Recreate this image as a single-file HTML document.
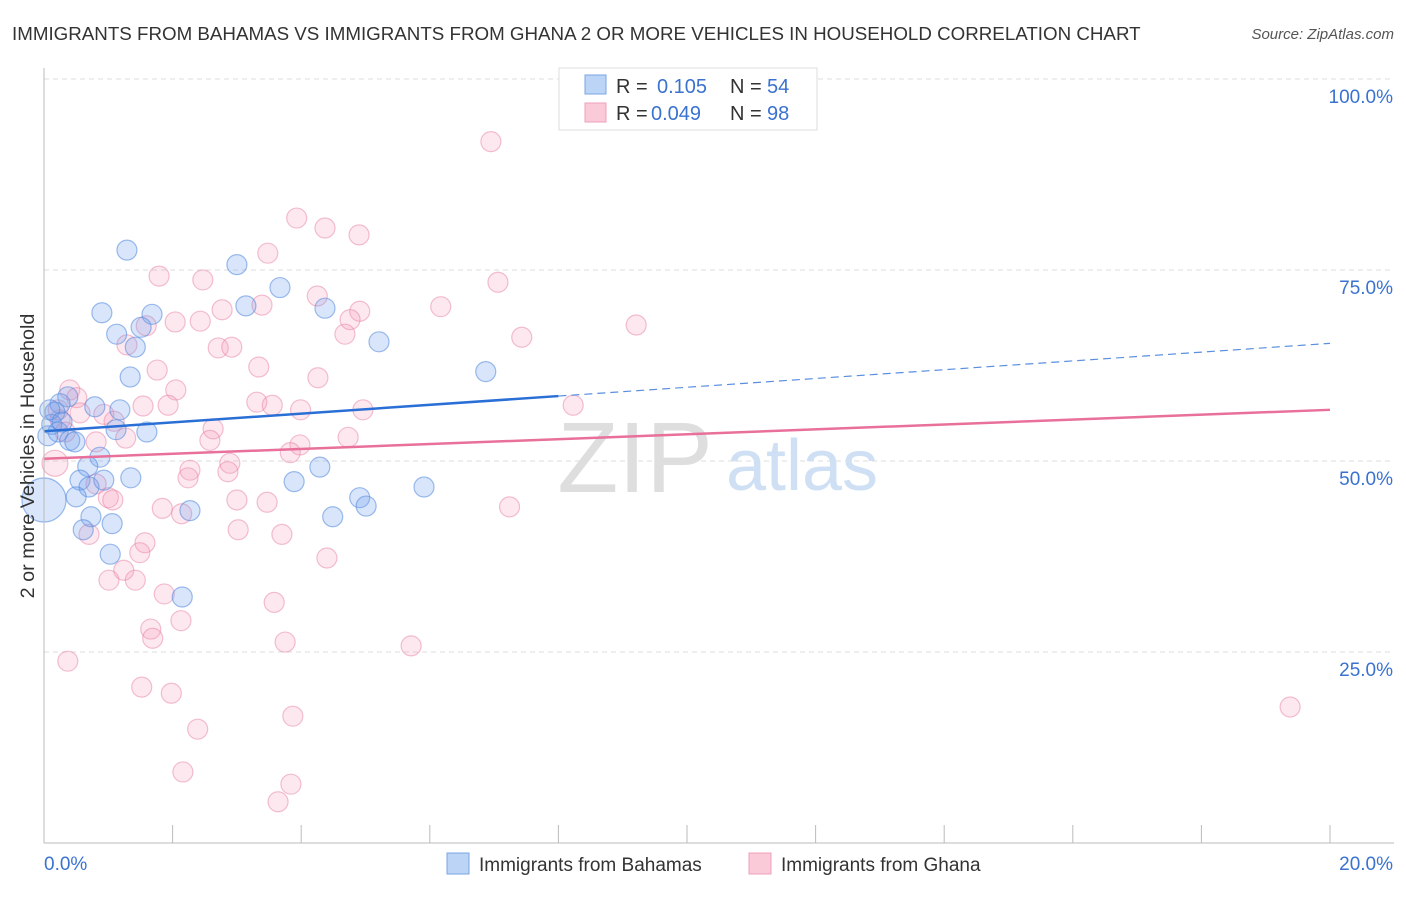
<!DOCTYPE html>
<html><head><meta charset="utf-8"><style>
body{margin:0;background:#fff;font-family:"Liberation Sans",sans-serif;}
svg text{font-family:"Liberation Sans",sans-serif;}
</style></head><body>
<svg width="1406" height="892" id="chart">
<text x="12" y="40" font-size="18.75" fill="#333">IMMIGRANTS FROM BAHAMAS VS IMMIGRANTS FROM GHANA 2 OR MORE VEHICLES IN HOUSEHOLD CORRELATION CHART</text>
<text x="1394" y="39" font-size="15" fill="#555" text-anchor="end" font-style="italic">Source: ZipAtlas.com</text>
<g id="grid"></g>
<g>
<text x="635" y="492" font-size="100" fill="#dedede" font-family="Liberation Serif" text-anchor="middle">ZIP</text>
<text x="802" y="490" font-size="72" fill="#cfe0f5" text-anchor="middle">atlas</text>
</g>
<g id="pts"></g>
<g id="lines"></g>
<g id="axes"></g>
<text transform="translate(34,456) rotate(-90)" font-size="19.8" fill="#333" text-anchor="middle">2 or more Vehicles in Household</text>
<g>
<rect x="559" y="68" width="258" height="62" fill="#fff" stroke="#ddd"/>
<rect x="585" y="75" width="21" height="19" fill="#bcd4f5" stroke="#7aa6e4"/>
<rect x="585" y="103" width="21" height="19" fill="#fbcad9" stroke="#eea0ba"/>
<text x="616" y="93" font-size="20" fill="#333">R = </text><text x="657" y="93" font-size="20" fill="#3a72d0">0.105</text>
<text x="730" y="93" font-size="20" fill="#333">N = </text><text x="767" y="93" font-size="20" fill="#3a72d0">54</text>
<text x="616" y="120" font-size="20" fill="#333">R = </text><text x="651" y="120" font-size="20" fill="#3a72d0">0.049</text>
<text x="730" y="120" font-size="20" fill="#333">N = </text><text x="767" y="120" font-size="20" fill="#3a72d0">98</text>
</g>
<g>
<rect x="447" y="853" width="22" height="21" fill="#bcd4f5" stroke="#7aa6e4"/>
<text x="479" y="871" font-size="19" fill="#333">Immigrants from Bahamas</text>
<rect x="749" y="853" width="22" height="21" fill="#fbcad9" stroke="#eea0ba"/>
<text x="781" y="871" font-size="19" fill="#333">Immigrants from Ghana</text>
</g>
</svg>
<script>
const blueX=[1.29,3.0,3.67,0.90,1.68,3.14,4.37,1.13,1.51,1.42,5.21,1.34,6.87,0.79,0.37,0.25,0.17,0.12,0.22,0.40,0.48,1.18,1.12,1.60,0.87,0.68,0.56,0.70,0.93,1.35,0.50,0.73,0.61,1.06,1.03,2.27,2.15,3.89,4.29,4.49,4.91,5.01,5.91,0.09,0.28,0.06,0.0];
const blueY=[77.6,75.7,72.7,69.4,69.2,70.3,70.0,66.6,67.5,64.9,65.6,61.0,61.7,57.1,58.4,57.5,56.4,54.8,53.8,52.7,52.5,56.7,54.1,53.8,50.5,49.3,47.5,46.6,47.5,47.8,45.3,42.7,41.0,41.8,37.8,43.5,32.2,47.3,49.2,42.7,45.2,44.1,46.6,56.7,55.1,53.3,44.9];
const blueR=[10,10,10,10,10,10,10,10,10,10,10,10,10,10,10,10,10,10,10,10,10,10,10,10,10,10,10,10,10,10,10,10,10,10,10,10,10,10,10,10,10,10,10,10,10,10,22];
const pinkX=[6.95,3.93,4.37,4.9,3.48,1.79,2.47,7.06,4.25,3.39,2.77,4.91,6.17,2.43,2.04,1.59,4.76,4.68,7.43,9.21,1.29,2.71,2.92,3.34,1.76,4.26,2.05,0.40,0.51,1.93,1.54,3.31,3.55,3.99,4.96,8.23,0.56,0.93,1.09,2.63,1.27,0.81,2.58,3.98,4.73,3.83,0.25,0.17,2.89,2.27,2.86,2.24,0.81,1.0,1.07,3.0,3.47,1.84,2.14,7.24,0.70,3.02,3.7,1.57,1.49,4.4,1.24,1.01,1.42,1.87,3.58,2.13,1.66,1.69,3.75,5.71,0.37,1.52,1.98,19.38,3.87,2.39,2.16,3.84,3.64,0.22,0.33];
const pinkY=[91.8,81.8,80.5,79.6,77.2,74.2,73.7,73.4,71.6,70.4,69.8,69.6,70.2,68.3,68.2,67.7,68.5,66.6,66.2,67.8,65.2,64.8,64.9,62.3,61.9,60.9,59.3,59.3,58.3,57.3,57.2,57.7,57.3,56.7,56.7,57.3,56.3,56.1,55.2,54.2,53.0,52.5,52.7,52.1,53.1,51.1,55.4,49.7,49.7,48.8,48.6,47.8,47.0,45.2,44.9,44.9,44.6,43.8,43.1,44.0,40.4,41.0,40.4,39.3,38.0,37.3,35.7,34.4,34.4,32.6,31.5,29.1,28.0,26.8,26.3,25.8,23.8,20.4,19.6,17.8,16.6,14.9,9.3,7.7,5.4,56.7,53.8];
const yTicks=[100,75,50,25];
const yTickLabels=["100.0%","75.0%","50.0%","25.0%"];
const xTickLabels=["0.0%","20.0%"];
const blueTrend=[53.9,65.4];
const pinkTrend=[50.3,56.7];
const NS="http://www.w3.org/2000/svg";
const sx=v=>44+v/20*1286, sy=v=>843-v/100*764;
function mk(t,a,p){const e=document.createElementNS(NS,t);for(const k in a)e.setAttribute(k,a[k]);p.appendChild(e);return e;}
const grid=document.getElementById('grid'),axes=document.getElementById('axes'),pts=document.getElementById('pts'),lines=document.getElementById('lines');
yTicks.forEach((v,i)=>{
 const l=mk('line',{x1:44,x2:1394,y1:sy(v),y2:sy(v),stroke:'#ddd','stroke-dasharray':'5,4'},grid);
 
 
 const t=mk('text',{x:1393,y:sy(v)+24,'font-size':19,fill:'#3a72d0','text-anchor':'end'},axes);
 t.textContent=yTickLabels[i];
 
 
});
mk('line',{x1:44,x2:44,y1:68,y2:843,stroke:'#bbb'},axes);
mk('line',{x1:44,x2:1394,y1:843,y2:843,stroke:'#bbb'},axes);
for(let i=0;i<=10;i++){const x=sx(i*2);const tk=mk('line',{x1:x,x2:x,y1:825,y2:843,stroke:'#bbb'},axes);
 
 }
let t0=mk('text',{x:44,y:870,'font-size':19,fill:'#3a72d0'},axes);t0.textContent=xTickLabels[0];


let t1=mk('text',{x:1393,y:870,'font-size':19,fill:'#3a72d0','text-anchor':'end'},axes);t1.textContent=xTickLabels[1];


pinkX.forEach((x,i)=>{const c=mk('circle',{cx:sx(x),cy:sy(pinkY[i]),r:(i==47?13:10),fill:'rgba(244,150,180,0.22)',stroke:'rgba(232,130,165,0.5)','stroke-width':1.2},pts);
 
 });
blueX.forEach((x,i)=>{const c=mk('circle',{cx:sx(x),cy:sy(blueY[i]),r:blueR[i],fill:'rgba(110,160,235,0.27)',stroke:'rgba(80,135,220,0.55)','stroke-width':1.2},pts);
 
 });
const by=x=>blueTrend[0]+(blueTrend[1]-blueTrend[0])*x/20;
const py=x=>pinkTrend[0]+(pinkTrend[1]-pinkTrend[0])*x/20;
let b1=mk('line',{x1:sx(0),y1:sy(by(0)),x2:sx(8),y2:sy(by(8)),stroke:'#2a6fd6','stroke-width':2.5},lines);


let b2=mk('line',{x1:sx(8),y1:sy(by(8)),x2:sx(20),y2:sy(by(20)),stroke:'#5a8fe0','stroke-width':1.2,'stroke-dasharray':'8,5'},lines);


let p1=mk('line',{x1:sx(0),y1:sy(py(0)),x2:sx(20),y2:sy(py(20)),stroke:'#e8709a','stroke-width':2.5},lines);


</script>
</body></html>
